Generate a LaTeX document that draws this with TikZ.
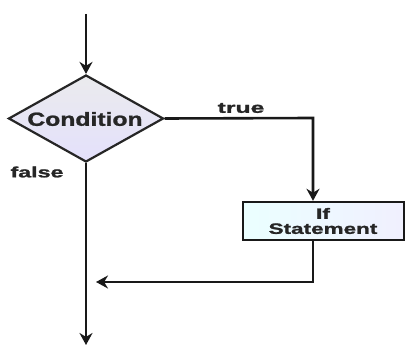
\documentclass[tikz,border=0pt]{standalone}
\usepackage{fontspec}
\setmainfont{Liberation Sans}[BoldFeatures={FakeBold=1.2}]
\usetikzlibrary{shapes.geometric,arrows.meta}
\begin{document}
\begin{tikzpicture}[x=1pt,y=-1pt,
  line/.style={draw=black!90,line width=2.6pt},
  arr/.style={line,-{Stealth[length=12pt,width=13pt]}},
  lbl/.style={font=\bfseries\fontsize{15}{16}\selectfont,text=black!85},
  cond/.style={diamond,draw=black!85,line width=2.2pt,minimum width=155pt,minimum height=87pt,inner sep=0pt,
    top color=blue!6!gray!15,bottom color=red!10!blue!12,shading angle=0},
  stmt/.style={rectangle,draw=black!90,line width=2.4pt,minimum width=161pt,minimum height=38pt,inner sep=0pt,
    left color=cyan!8,right color=red!4!blue!6}
]
\useasboundingbox (0,0) rectangle (409,347);
\fill[white] (0,0) rectangle (409,347);
\coordinate (start) at (86,14);
\node[cond] (c) at (86,118.5) {};
\node[font=\bfseries\fontsize{19}{20}\selectfont,text=black!85] (ct) at (85,119) {\scalebox{1.3}[1]{Condition}};
\node[stmt] (s) at (323.5,221) {};
\node[font=\bfseries\fontsize{15}{15}\selectfont,align=center,text=black!85] (st) at (323,221) {\scalebox{1.5}[1]{If}\\[0pt]\scalebox{1.5}[1]{Statement}};
\coordinate (tr) at (313,118);
\coordinate (br) at (313,282);
\coordinate (bl) at (96,282);
\coordinate (end) at (86,345);
\draw[arr] (start) -- (c.north);
\draw[arr] (c.east) -- (tr) -- (s.north -| tr);
\draw[arr] (s.south -| br) -- (br) -- (bl);
\draw[arr] (c.south) -- (end);
\node[lbl] (t) at (241,108) {\scalebox{1.65}[1]{true}};
\node[lbl] (f) at (37,172) {\scalebox{1.55}[1]{false}};
\end{tikzpicture}
\end{document}
